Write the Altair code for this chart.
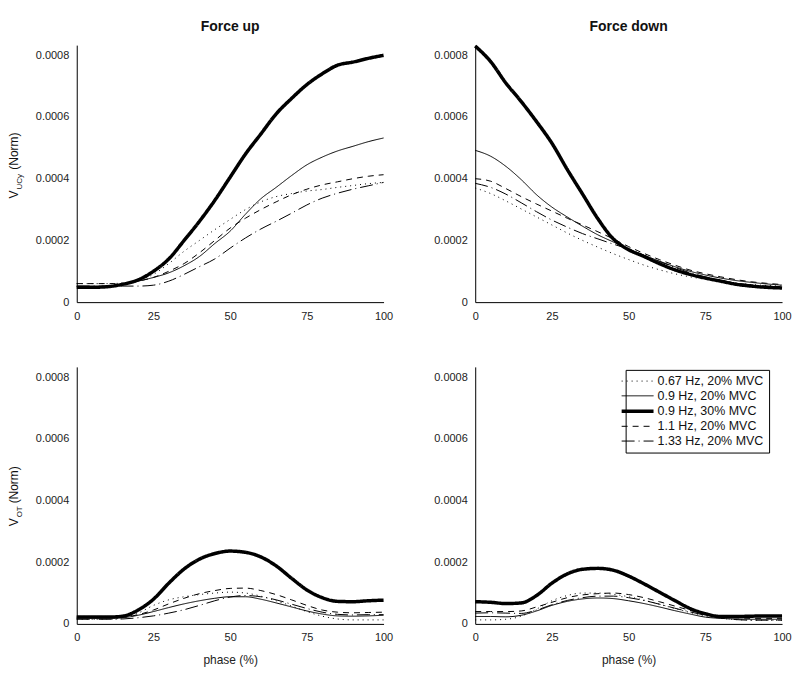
import altair as alt
import pandas as pd

FONT = "Liberation Sans"

phase = [0, 5, 10, 15, 20, 25, 30, 35, 40, 45, 50, 55, 60, 65, 70, 75, 80, 85, 90, 95, 100]
series = ["0.67 Hz, 20% MVC", "0.9 Hz, 20% MVC", "0.9 Hz, 30% MVC", "1.1 Hz, 20% MVC", "1.33 Hz, 20% MVC"]
dashes = [[1, 4], [1, 0], [1, 0], [6, 5], [13, 4, 1, 4]]
widths = [1, 1, 3.5, 1, 1]

y_ticks = [0, 0.0002, 0.0004, 0.0006, 0.0008]
x_ticks = [0, 25, 50, 75, 100]

# V_UCy, Force up
ucy_up = {
    "0.67 Hz, 20% MVC": [0.00006, 0.00006, 0.00006, 0.000062, 0.000072, 0.00009, 0.000125, 0.000165, 0.0002, 0.000235, 0.000268, 0.0003, 0.000325, 0.000342, 0.000352, 0.00036, 0.000365, 0.000372, 0.000378, 0.000384, 0.000388],
    "0.9 Hz, 20% MVC": [0.00005, 0.00005, 0.000052, 0.000058, 0.000068, 0.00008, 0.000095, 0.000118, 0.000148, 0.00019, 0.00023, 0.000285, 0.000335, 0.000372, 0.00041, 0.000445, 0.00047, 0.00049, 0.000505, 0.00052, 0.000532],
    "0.9 Hz, 30% MVC": [0.000048, 0.000048, 0.00005, 0.000058, 0.000072, 0.0001, 0.00014, 0.0002, 0.000262, 0.00033, 0.000405, 0.00048, 0.000545, 0.00061, 0.00066, 0.000705, 0.00074, 0.000768, 0.000778, 0.00079, 0.0008],
    "1.1 Hz, 20% MVC": [0.00006, 0.00006, 0.00006, 0.00006, 0.000068, 0.00008, 0.0001, 0.000125, 0.00016, 0.0002, 0.00024, 0.000272, 0.0003, 0.000325, 0.000348, 0.000366, 0.00038, 0.00039, 0.0004, 0.000408, 0.000413],
    "1.33 Hz, 20% MVC": [0.000052, 0.000052, 0.000052, 0.000052, 0.000052, 0.000055, 0.000068, 0.00009, 0.000115, 0.00014, 0.000175, 0.000208, 0.000237, 0.000262, 0.000288, 0.000315, 0.000337, 0.000353, 0.000366, 0.000377, 0.000388],
}

# V_UCy, Force down
ucy_down = {
    "0.67 Hz, 20% MVC": [0.00037, 0.000352, 0.000328, 0.000302, 0.000276, 0.00025, 0.000224, 0.0002, 0.000178, 0.000157, 0.000138, 0.00012, 0.000105, 0.000092, 0.000082, 0.000074, 0.000067, 0.000061, 0.000057, 0.000054, 0.000052],
    "0.9 Hz, 20% MVC": [0.000492, 0.000473, 0.00044, 0.000397, 0.000348, 0.000308, 0.000276, 0.000246, 0.000218, 0.000195, 0.000172, 0.000152, 0.000133, 0.000115, 0.0001, 0.000088, 0.000078, 0.00007, 0.000064, 0.000059, 0.000055],
    "0.9 Hz, 30% MVC": [0.00083, 0.00078, 0.00071, 0.00065, 0.000585, 0.000515, 0.00043, 0.00035, 0.00027, 0.000205, 0.00017, 0.000148, 0.000125, 0.000105, 0.00009, 0.000078, 0.000068, 0.000058, 0.000052, 0.000048, 0.000046],
    "1.1 Hz, 20% MVC": [0.0004, 0.000392, 0.000368, 0.000342, 0.000318, 0.000295, 0.000272, 0.00025, 0.000228, 0.000205, 0.00018, 0.000158, 0.000138, 0.00012, 0.000104, 0.000092, 0.000082, 0.000073, 0.000066, 0.000061, 0.000057],
    "1.33 Hz, 20% MVC": [0.000385, 0.000372, 0.00035, 0.000322, 0.000293, 0.000266, 0.000243, 0.000222, 0.000205, 0.000188, 0.000172, 0.000152, 0.000132, 0.000113, 0.000095, 0.000082, 0.00007, 0.000062, 0.000056, 0.000052, 0.000049],
}

# V_OT, Force up
ot_up = {
    "0.67 Hz, 20% MVC": [0.000015, 0.000015, 0.000015, 0.00002, 0.000035, 0.00006, 0.000078, 0.000088, 0.000095, 0.0001, 0.000103, 0.0001, 0.00009, 0.000075, 0.000058, 0.00004, 0.000025, 0.000016, 0.000013, 0.000013, 0.000013],
    "0.9 Hz, 20% MVC": [0.000018, 0.000018, 0.000018, 0.00002, 0.000028, 0.00004, 0.000053, 0.000065, 0.000075, 0.000083, 0.000088, 0.000088, 0.00008, 0.000068, 0.000055, 0.000042, 0.000032, 0.000026, 0.000025, 0.000026, 0.000028],
    "0.9 Hz, 30% MVC": [0.000022, 0.000022, 0.000022, 0.000025, 0.000045, 0.00008, 0.000132, 0.000178, 0.00021, 0.000228, 0.000236, 0.000232, 0.000217, 0.000188, 0.000148, 0.00011, 0.000085, 0.000073, 0.000072, 0.000075, 0.000077],
    "1.1 Hz, 20% MVC": [0.000022, 0.000022, 0.000022, 0.000022, 0.00003, 0.000045, 0.000065, 0.000083, 0.000098, 0.000108, 0.000115, 0.000116, 0.000108, 0.000095, 0.000078, 0.00006, 0.000045, 0.000038, 0.000036, 0.000037, 0.000038],
    "1.33 Hz, 20% MVC": [0.000015, 0.000015, 0.000015, 0.000016, 0.00002, 0.000026, 0.000035, 0.000046, 0.00006, 0.000075, 0.000087, 0.000092, 0.000088, 0.000078, 0.000064, 0.00005, 0.000038, 0.000031, 0.000029, 0.00003, 0.00003],
}

# V_OT, Force down
ot_down = {
    "0.67 Hz, 20% MVC": [0.000013, 0.000013, 0.000015, 0.000025, 0.000048, 0.000075, 0.000092, 0.0001, 0.0001, 0.000096, 0.000088, 0.000077, 0.000064, 0.00005, 0.000037, 0.000026, 0.000018, 0.000014, 0.000012, 0.000012, 0.000012],
    "0.9 Hz, 20% MVC": [0.000024, 0.000024, 0.000023, 0.000028, 0.000042, 0.00006, 0.000073, 0.000081, 0.000084, 0.000082, 0.000075, 0.000066, 0.000055, 0.000043, 0.000032, 0.000022, 0.000018, 0.000016, 0.000015, 0.000015, 0.000015],
    "0.9 Hz, 30% MVC": [0.000072, 0.00007, 0.000066, 0.000068, 0.000092, 0.000132, 0.000162, 0.000177, 0.00018, 0.000174, 0.000155, 0.00013, 0.000103, 0.000076, 0.00005, 0.000033, 0.000024, 0.000024, 0.000025, 0.000026, 0.000026],
    "1.1 Hz, 20% MVC": [0.00004, 0.00004, 0.00004, 0.000042, 0.000055, 0.00007, 0.000085, 0.000094, 0.000098, 0.0001, 0.000095, 0.000085, 0.000072, 0.000058, 0.000044, 0.000032, 0.000024, 0.00002, 0.000018, 0.000018, 0.000018],
    "1.33 Hz, 20% MVC": [0.000035, 0.000036, 0.000035, 0.000034, 0.000045, 0.000062, 0.000076, 0.000085, 0.00009, 0.00009, 0.000085, 0.000076, 0.000064, 0.000051, 0.000039, 0.000028, 0.000019, 0.000014, 0.000012, 0.000012, 0.000012],
}

W, H = 308, 258


def to_df(d):
    rows = []
    for s in series:
        for p, v in zip(phase, d[s]):
            rows.append({"phase": p, "value": v, "series": s})
    return pd.DataFrame(rows)


ONE = pd.DataFrame({"k": [0]})


def ytitle_layers(sub, y0):
    common = dict(angle=270, align="left", baseline="middle", font=FONT, color="#111")
    v = alt.Chart(ONE).mark_text(text="V", fontSize=12, **common).encode(
        x=alt.value(-63), y=alt.value(y0))
    s = alt.Chart(ONE).mark_text(text=sub, fontSize=8, **common).encode(
        x=alt.value(-57), y=alt.value(y0 - 9))
    n = alt.Chart(ONE).mark_text(text="(Norm)", fontSize=12, **common).encode(
        x=alt.value(-63), y=alt.value(y0 - 9 - 2 - 6 * len(sub)))
    return [v, s, n]


def title_layer(title):
    return alt.Chart(ONE).mark_text(text=title, fontSize=14, font=FONT, fontWeight="bold",
                                    align="center", baseline="middle", color="#111").encode(
        x=alt.value(W / 2), y=alt.value(-18))


def panel(d, title=None, sub=None, y0=154, xtitle=False, legend=False):
    leg = None
    if legend:
        leg = alt.Legend(orient="none", legendX=151, legendY=3, title=None,
                         symbolType="M-3.2,0H3.2", symbolSize=100, symbolStrokeColor="black",
                         labelFont=FONT, labelFontSize=12.5, labelColor="#111",
                         strokeColor="black", fillColor="white", padding=5,
                         rowPadding=1.8, labelOffset=13, cornerRadius=0)
    line = alt.Chart(to_df(d)).mark_line(interpolate="monotone", color="black").encode(
        x=alt.X("phase:Q", scale=alt.Scale(domain=[0, 100], nice=False),
                axis=alt.Axis(values=x_ticks, title="phase (%)" if xtitle else None)),
        y=alt.Y("value:Q", scale=alt.Scale(domain=[0, 0.000833], nice=False),
                axis=alt.Axis(values=y_ticks, title=None,
                              labelExpr="datum.value == 0 ? '0' : format(datum.value, '.4f')")),
        strokeDash=alt.StrokeDash("series:N", scale=alt.Scale(type="ordinal", domain=series, range=dashes), legend=leg),
        strokeWidth=alt.StrokeWidth("series:N", scale=alt.Scale(type="ordinal", domain=series, range=widths), legend=leg),
    )
    layers = [line]
    if sub:
        layers += ytitle_layers(sub, y0)
    if title:
        layers.append(title_layer(title))
    return alt.layer(*layers).properties(width=W, height=H)


p1 = panel(ucy_up, title="Force up", sub="UCy", y0=154)
p2 = panel(ucy_down, title="Force down")
p3 = panel(ot_up, sub="OT", y0=160, xtitle=True)
p4 = panel(ot_down, xtitle=True, legend=True)

chart = alt.concat(p1, p2, p3, p4, columns=2, spacing={"row": 65, "column": 92}, bounds="flush").resolve_scale(
    strokeDash="independent", strokeWidth="independent"
).configure_view(stroke=None).configure_axis(
    grid=False, ticks=False, domainColor="black", domainWidth=1, labelFlush=False,
    labelFont=FONT, labelFontSize=11, labelColor="#222", labelPadding=8,
    titleFont=FONT, titleFontSize=12, titleFontWeight="normal", titleColor="#222", titlePadding=12
).properties(padding={"left": 0, "top": 11, "right": 0, "bottom": 0})

chart.save("out.html", embed_options={"renderer": "svg", "actions": False})
